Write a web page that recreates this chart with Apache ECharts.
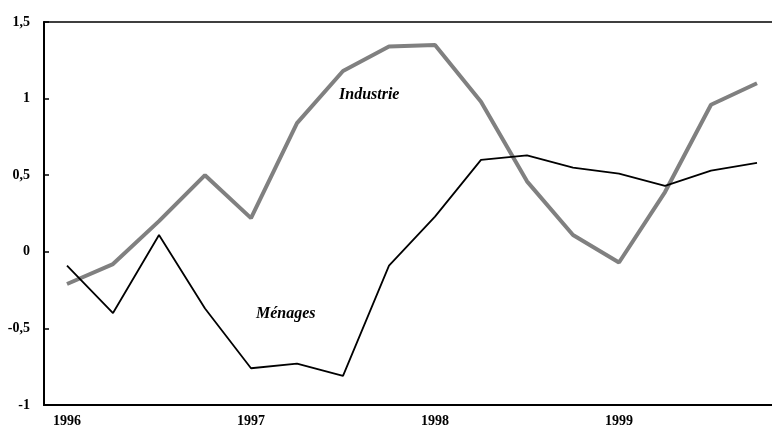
<!DOCTYPE html>
<html>
<head>
<meta charset="utf-8">
<script src="https://cdn.jsdelivr.net/npm/echarts@6/dist/echarts.min.js"></script>
<style>
html,body{margin:0;padding:0;background:#fff;}
#main{width:772px;height:433px;}
</style>
</head>
<body>
<div id="main"></div>
<script>
const quarters = ['1996','1996T2','1996T3','1996T4','1997','1997T2','1997T3','1997T4','1998','1998T2','1998T3','1998T4','1999','1999T2','1999T3','1999T4'];
const industrie = [-0.21, -0.08, 0.20, 0.50, 0.22, 0.84, 1.18, 1.34, 1.35, 0.98, 0.46, 0.11, -0.07, 0.39, 0.96, 1.10];
const menages = [-0.09, -0.40, 0.11, -0.37, -0.76, -0.73, -0.81, -0.09, 0.23, 0.60, 0.63, 0.55, 0.51, 0.43, 0.53, 0.58];
const yTicks = { min: -1, max: 1.5, interval: 0.5 };

const chart = echarts.init(document.getElementById('main'), null, {renderer:'canvas'});
const fontFam = '"Liberation Serif", "DejaVu Serif", serif';
chart.setOption({
  animation: false,
  backgroundColor: '#ffffff',
  grid: { left: 44, width: 736, top: 22, bottom: 28, outerBoundsMode: 'none', containLabel: false, show: true, borderColor: '#000', borderWidth: 1.5, backgroundColor: 'transparent' },
  xAxis: {
    type: 'category',
    data: quarters,
    boundaryGap: true,
    axisLine: { onZero: false, lineStyle: { color: '#000', width: 2 } },
    axisTick: { inside: true, length: 4, interval: 3, lineStyle: { color: '#000', width: 1.5 } },
    axisLabel: {
      interval: 3,
      margin: 9,
      color: '#000',
      fontFamily: fontFam,
      fontWeight: 'bold',
      fontSize: 14,
      formatter: v => v.slice(0, 4)
    },
    splitLine: { show: false }
  },
  yAxis: {
    type: 'value',
    min: yTicks.min, max: yTicks.max, interval: yTicks.interval,
    axisLine: { show: true, lineStyle: { color: '#000', width: 2 } },
    axisTick: { show: true, inside: true, length: 5, lineStyle: { color: '#000', width: 1.5 } },
    axisLabel: {
      margin: 14,
      color: '#000',
      fontFamily: fontFam,
      fontWeight: 'bold',
      fontSize: 14,
      formatter: v => String(v).replace('.', ',')
    },
    splitLine: { show: false }
  },
  series: [
    {
      name: 'Industrie', type: 'line', data: industrie,
      symbol: 'none', lineStyle: { color: '#808080', width: 4 }, z: 2
    },
    {
      name: 'Ménages', type: 'line', data: menages,
      symbol: 'none', lineStyle: { color: '#000', width: 1.8 }, z: 3
    }
  ],
  graphic: [
    { type: 'text', left: 339, top: 87, style: { text: 'Industrie', fill: '#000', font: 'italic bold 16px ' + fontFam } },
    { type: 'text', left: 256, top: 306, style: { text: 'Ménages', fill: '#000', font: 'italic bold 16px ' + fontFam } }
  ]
});
</script>
</body>
</html>
